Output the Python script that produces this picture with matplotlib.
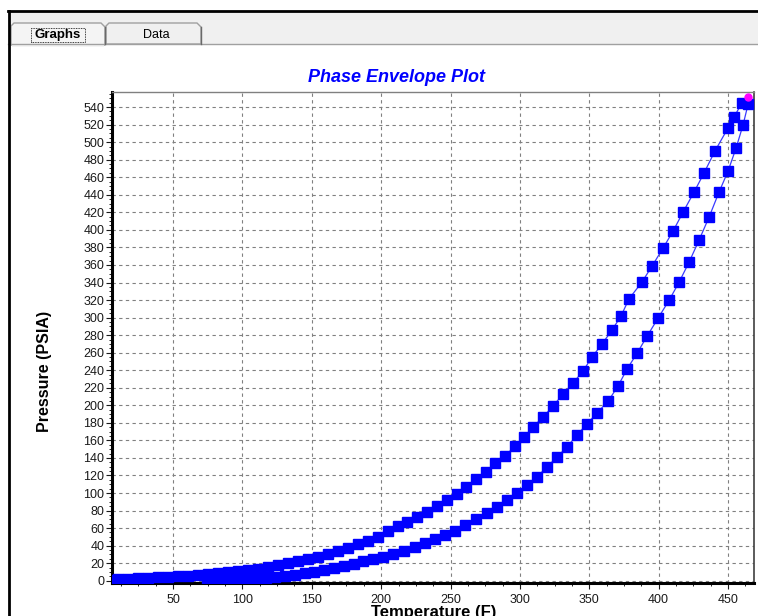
import matplotlib
matplotlib.use('Agg')
import matplotlib.pyplot as plt
from matplotlib.patches import Polygon, Rectangle
from matplotlib.lines import Line2D
from matplotlib.ticker import MultipleLocator, AutoMinorLocator
from matplotlib import font_manager

# bubble point curve (upper)
bubble_T = [3.3, 10.5, 17.7, 24.9, 32.1, 39.3, 46.5, 53.7, 60.9, 68.1, 75.3,
            82.5, 89.7, 96.9, 104.1, 111.3, 118.5, 125.7, 132.9, 140.1, 147.3,
            154.5, 161.7, 168.9, 176.1, 183.3, 190.5, 197.7, 205.0, 212.2,
            218.6, 225.9, 233.1, 240.3, 247.5, 254.7, 261.2, 268.4, 275.6,
            282.1, 289.3, 296.5, 303.0, 309.5, 316.7, 323.9, 331.1, 338.3,
            345.5, 352.0, 359.2, 366.4, 372.9, 378.6, 388.0, 395.2, 403.2,
            410.4, 417.6, 425.5, 432.7, 440.6, 450.0, 454.3, 460.0]
bubble_P = [1.3, 1.7, 2.2, 2.7, 3.2, 3.7, 4.3, 5.0, 5.7, 6.5, 7.4,
            8.4, 9.5, 10.8, 12.2, 13.8, 15.6, 17.6, 19.8, 22.2, 24.8,
            27.6, 30.7, 34.0, 37.6, 41.5, 45.7, 50.2, 56.7, 62.4,
            66.9, 72.6, 78.3, 85.1, 92.0, 98.8, 106.8, 115.9, 123.9,
            134.2, 142.2, 153.6, 163.9, 175.3, 186.7, 199.2, 212.9, 225.4,
            239.1, 255.1, 269.9, 285.9, 301.9, 321.3, 340.6, 358.7, 379.3,
            398.7, 420.3, 443.1, 464.9, 490.0, 516.2, 528.7, 544.7]

# dew point curve (lower)
dew_T = [74.5, 81.5, 88.5, 95.6, 102.6, 109.7, 116.7, 123.8, 130.8, 137.9,
         144.9, 151.9, 159.0, 166.0, 173.1, 180.1, 187.2, 194.2, 201.4, 208.6,
         216.5, 224.4, 231.6, 238.8, 246.0, 253.2, 260.4, 268.4, 276.3, 283.5,
         290.7, 297.9, 305.1, 312.3, 319.5, 326.8, 334.0, 341.2, 348.4, 355.6,
         363.5, 370.7, 377.2, 384.4, 391.6, 399.5, 407.5, 414.7, 421.9, 429.1,
         436.3, 443.5, 450.0, 455.8, 460.8, 464.4]
dew_P = [0.2, 0.5, 0.9, 1.3, 1.9, 2.6, 3.4, 4.4, 5.5, 6.9,
         8.4, 10.2, 12.2, 14.5, 17.0, 19.6, 22.3, 24.9, 27.4, 30.4,
         33.8, 38.4, 42.5, 47.0, 52.1, 56.7, 63.5, 70.4, 77.2, 84.1,
         92.1, 100.1, 109.2, 118.3, 129.7, 141.1, 152.6, 166.3, 178.8, 191.4,
         204.5, 222.0, 241.3, 259.3, 278.7, 299.2, 319.7, 340.3, 363.2, 388.3,
         414.5, 443.1, 467.0, 493.4, 519.6, 543.0]

crit_T = [464.4]
crit_P = [551.5]

W, H = 758, 616
BASE = 'Liberation Sans'
names = {f.name for f in font_manager.fontManager.ttflist}
NARROW = 'Liberation Sans Narrow' if 'Liberation Sans Narrow' in names else BASE
plt.rcParams['font.family'] = [BASE, 'DejaVu Sans']

fig = plt.figure(figsize=(W / 100, H / 100), dpi=100)
fig.patch.set_facecolor('white')
tf = fig.transFigure


def rect(x0, y0, x1, y1, **kw):
    fig.add_artist(Rectangle((x0 / W, 1 - y1 / H), (x1 - x0) / W, (y1 - y0) / H,
                             transform=tf, **kw))


def line(x0, y0, x1, y1, **kw):
    fig.add_artist(Line2D([x0 / W, x1 / W], [1 - y0 / H, 1 - y1 / H],
                          transform=tf, **kw))


def poly(pts, **kw):
    fig.add_artist(Polygon([(x / W, 1 - y / H) for x, y in pts],
                           closed=True, transform=tf, **kw))


# window / tab strip
rect(8, 11, W, 44, facecolor='#f0f0f0', edgecolor='none')
line(8, 44, W, 44, color='#a0a0a0', lw=1)
line(8, 11, W, 11, color='black', lw=2)
line(9, 11, 9, H, color='black', lw=2)

poly([(106, 44), (106, 26), (109, 23), (197, 23), (201, 27), (201, 44)],
     facecolor='#f0f0f0', edgecolor='#a0a0a0', lw=1)
line(201, 27, 201, 44, color='#696969', lw=1)
poly([(11, 45), (11, 26), (14, 23), (101, 23), (105, 27), (105, 45)],
     facecolor='#f4f4f4', edgecolor='#a0a0a0', lw=1)
line(105, 27, 105, 44, color='#696969', lw=1)
rect(12, 44, 104, 47, facecolor='#f4f4f4', edgecolor='none')

fig.text(58 / W, 1 - 35 / H, 'Graphs', fontsize=9.5, fontweight='bold',
         ha='center', va='center')
rect(31, 28, 85, 42, fill=False, edgecolor='black', lw=0.6, linestyle=(0, (1, 1)))
fig.text(156 / W, 1 - 35 / H, 'Data', fontsize=9, ha='center', va='center')

fig.text(396.5 / W, 1 - 77.5 / H, 'Phase Envelope Plot', fontsize=13,
         fontweight='bold', fontstyle='italic', color='#0000ff',
         ha='center', va='center')

# plot area
ax = fig.add_axes([112 / W, 1 - 583 / H, (754 - 112) / W, (583 - 92) / H])
ax.plot(bubble_T, bubble_P, color='#3a3aff', lw=0.9, marker='s', ms=7.3,
        mfc='#0000ff', mec='#0000ff', zorder=3)
ax.plot(dew_T, dew_P, color='#3a3aff', lw=0.9, marker='s', ms=7.3,
        mfc='#0000ff', mec='#0000ff', zorder=3)
ax.plot(crit_T, crit_P, 'o', color='#ff00ff', ms=5, clip_on=False, zorder=4)

ax.set_xlim(6.0, 468.7)
ax.set_ylim(-2.6, 557.2)
ax.xaxis.set_major_locator(MultipleLocator(50))
ax.xaxis.set_minor_locator(AutoMinorLocator(4))
ax.yaxis.set_major_locator(MultipleLocator(20))
ax.yaxis.set_minor_locator(AutoMinorLocator(4))

ax.grid(which='major', color='#808080', linestyle=(0, (3, 3)), linewidth=0.8)
ax.set_axisbelow(True)

ax.spines['left'].set_linewidth(2.2)
ax.spines['bottom'].set_linewidth(2.2)
ax.spines['right'].set_linewidth(1.2)
ax.spines['right'].set_color('#404040')
ax.spines['top'].set_linewidth(1)
ax.spines['top'].set_color('#808080')

ax.tick_params(which='major', direction='out', length=4, width=0.8,
               labelsize=9, colors='#1a1a1a')
ax.tick_params(which='minor', direction='out', length=2, width=0.6)
ax.tick_params(axis='y', pad=1.5)
ax.tick_params(axis='x', pad=4)

fig.text(44 / W, 1 - 371 / H, 'Pressure (PSIA)', fontsize=11.5,
         fontweight='bold', rotation=90, ha='center', va='center',
         family=[NARROW, 'DejaVu Sans'])
# the screenshot cuts this label off at its lower edge
fig.text(434 / W, 1 - 605.5 / H, 'Temperature (F)', fontsize=12,
         fontweight='bold', ha='center', va='top')

fig.savefig('out.png', dpi=100)
